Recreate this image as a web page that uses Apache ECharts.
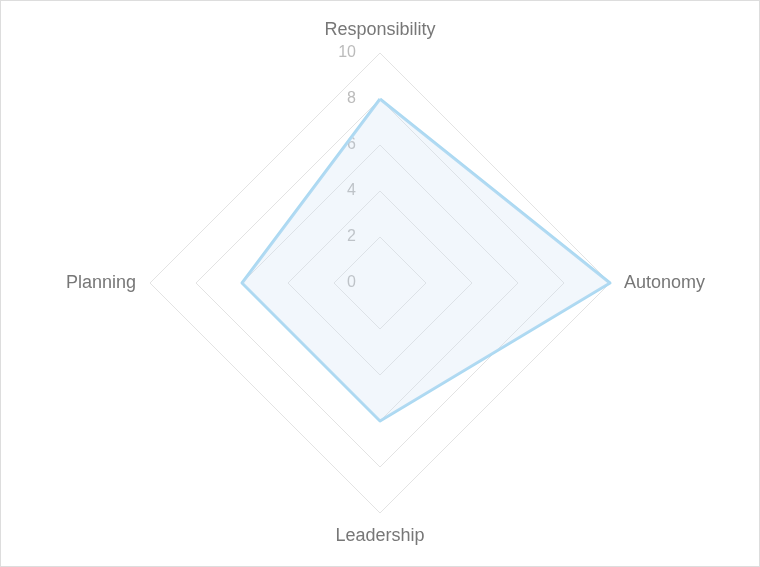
<!DOCTYPE html>
<html><head><meta charset="utf-8">
<script src="https://cdn.jsdelivr.net/npm/echarts@6/dist/echarts.min.js"></script>
<style>html,body{margin:0;padding:0;background:#fff}#c{width:758px;height:565px;border:1px solid #ddd}</style>
</head><body><div id="c"></div>
<script>
const indicators = ['Responsibility','Planning','Leadership','Autonomy'];
const values = [8,6,6,10];
const maxValue = 10;
const chart = echarts.init(document.getElementById('c'));
chart.setOption({
  animation:false,
  radar:{
    center:[379,282], radius:230, startAngle:90, shape:'polygon', splitNumber:5,
    indicator: indicators.map((n,i)=>({name:n,max:maxValue,min:0, axisLabel:{show:i===0}})),
    axisName:{color:'#777', fontSize:18, fontFamily:'Liberation Sans, Arial'},
    nameGap:14,
    splitLine:{lineStyle:{color:'#e3e3e3', width:1}},
    splitArea:{show:false},
    axisLine:{show:false},
    axisLabel:{show:true, color:'#bbb', fontSize:16, fontFamily:'Liberation Sans, Arial', margin:24}
  },
  series:[{type:'radar', symbol:'none',
    lineStyle:{color:'#abd9f2', width:3},
    areaStyle:{color:'rgba(200,222,243,0.35)'},
    data:[{value:values}]}]
});
</script></body></html>
